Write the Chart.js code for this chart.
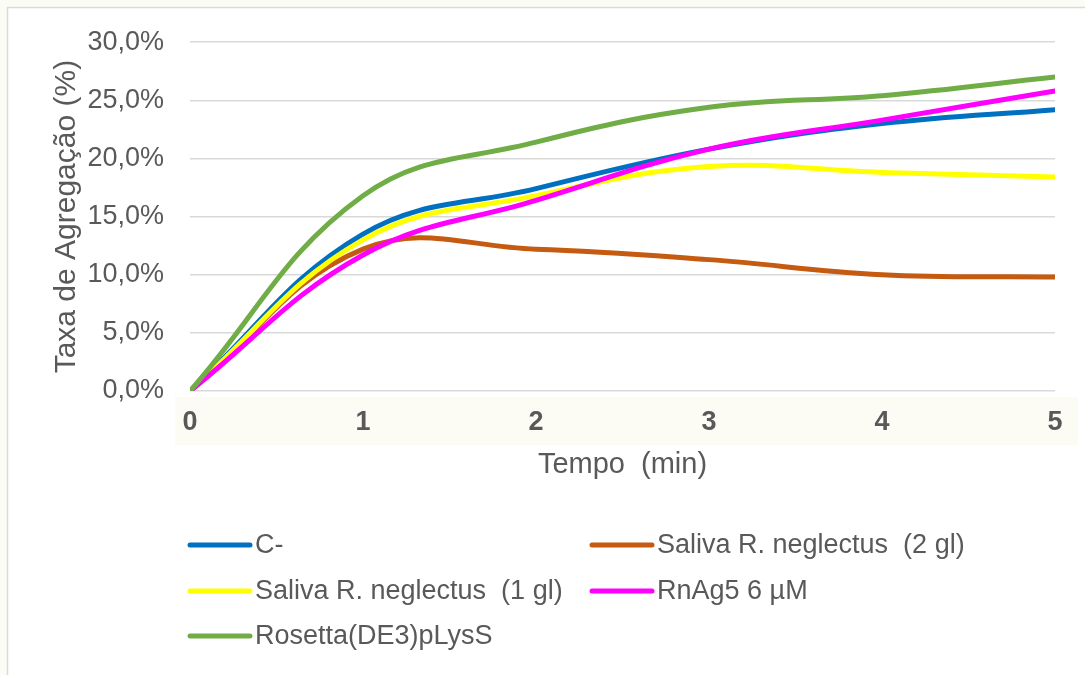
<!DOCTYPE html>
<html>
<head>
<meta charset="utf-8">
<script src="https://cdn.jsdelivr.net/npm/chart.js@4.4.0/dist/chart.umd.min.js"></script>
<style>
  html, body { margin: 0; padding: 0; background: #fcfcf6; }
  #wrap { width: 1085px; height: 675px; position: relative; }
</style>
</head>
<body>
<div id="wrap"><canvas id="myChart" width="1085" height="675"></canvas></div>
<script>
const tempo = [0, 1, 2, 3, 4, 5];
const cNeg = [0, 13.5, 17.4, 20.8, 23.0, 24.2];
const saliva2gl = [0, 12.2, 12.2, 11.3, 10.0, 9.8];
const saliva1gl = [0, 13.0, 16.8, 19.3, 18.8, 18.4];
const rnag5 = [0, 11.7, 16.4, 20.8, 23.3, 25.8];
const rosetta = [0, 16.8, 21.4, 24.4, 25.4, 27.0];

const seriesNames = ['C-', 'Saliva R. neglectus  (2 gl)', 'Saliva R. neglectus  (1 gl)', 'RnAg5 6 µM', 'Rosetta(DE3)pLysS'];
const seriesColors = ['#0070c0', '#c55a11', '#ffff00', '#ff00ff', '#70ad47'];
const seriesValues = [cNeg, saliva2gl, saliva1gl, rnag5, rosetta];

const toPoints = vals => vals.map((v, i) => ({ x: tempo[i], y: v }));

const datasets = seriesValues.map((vals, i) => ({
  label: seriesNames[i],
  data: toPoints(vals),
  borderColor: seriesColors[i],
  backgroundColor: seriesColors[i],
  borderWidth: 5,
  pointRadius: 0,
  tension: 0.4,
  order: seriesValues.length - i,
  borderCapStyle: 'round'
}));

const textGray = '#595959';

// frame + light band under the x axis, like the exported sheet
const framePlugin = {
  id: 'frame',
  beforeDraw(chart) {
    const c = chart.ctx;
    c.save();
    c.fillStyle = '#fcfcf6';
    c.fillRect(0, 0, chart.width, chart.height);
    c.fillStyle = '#ffffff';
    c.fillRect(7, 7, chart.width, chart.height);
    c.strokeStyle = '#d9d9d9';
    c.lineWidth = 1.5;
    c.beginPath();
    c.moveTo(7.5, chart.height);
    c.lineTo(7.5, 7.5);
    c.lineTo(chart.width, 7.5);
    c.stroke();
    const area = chart.chartArea;
    c.fillStyle = '#fcfcf5';
    c.fillRect(area.left - 15, area.bottom + 6, area.right - area.left + 38, 48);
    c.restore();
  }
};

// two-column legend under the chart
const legendPlugin = {
  id: 'twoColLegend',
  afterDraw(chart) {
    const c = chart.ctx;
    const colX = [190, 592];
    const rowY = [545, 591, 636];
    c.save();
    c.font = '27px "Liberation Sans", Arial, sans-serif';
    c.textBaseline = 'middle';
    c.fillStyle = textGray;
    chart.data.datasets.forEach((ds, i) => {
      const x = colX[i % 2];
      const y = rowY[Math.floor(i / 2)];
      c.strokeStyle = ds.borderColor;
      c.lineWidth = 5;
      c.lineCap = 'round';
      c.beginPath();
      c.moveTo(x, y);
      c.lineTo(x + 60, y);
      c.stroke();
      c.fillText(ds.label, x + 65, y + 1);
    });
    c.restore();
  }
};

const config = {
  type: 'line',
  data: { datasets: datasets },
  options: {
    responsive: false,
    animation: false,
    layout: { padding: { left: 45, top: 41, right: 30, bottom: 189 } },
    plugins: {
      legend: { display: false },
      tooltip: { enabled: false }
    },
    scales: {
      x: {
        type: 'linear',
        min: 0,
        max: 5,
        border: { display: false },
        grid: { display: false, drawTicks: false },
        ticks: {
          stepSize: 1,
          padding: 15,
          color: textGray,
          font: { family: '"Liberation Sans Narrow", "Liberation Sans", Arial', size: 27, weight: 'bold' }
        },
        title: {
          display: true,
          text: 'Tempo  (min)',
          color: textGray,
          font: { family: '"Liberation Sans", Arial', size: 29 }
        },
        afterFit(scale) { scale.height = 95; }
      },
      y: {
        min: 0,
        max: 30,
        border: { display: false },
        grid: { color: '#d9d9d9', lineWidth: 1.5, drawTicks: false },
        ticks: {
          stepSize: 5,
          padding: 26,
          color: textGray,
          font: { family: '"Liberation Sans", Arial', size: 27 },
          callback: v => v.toFixed(1).replace('.', ',') + '%'
        },
        title: {
          display: true,
          text: 'Taxa de Agregação (%)',
          color: textGray,
          font: { family: '"Liberation Sans", Arial', size: 30 }
        },
        afterFit(scale) { scale.width = 145; }
      }
    }
  },
  plugins: [framePlugin, legendPlugin]
};

var ctx = document.getElementById('myChart');
var myChart = new Chart(ctx, config);
</script>
</body>
</html>
